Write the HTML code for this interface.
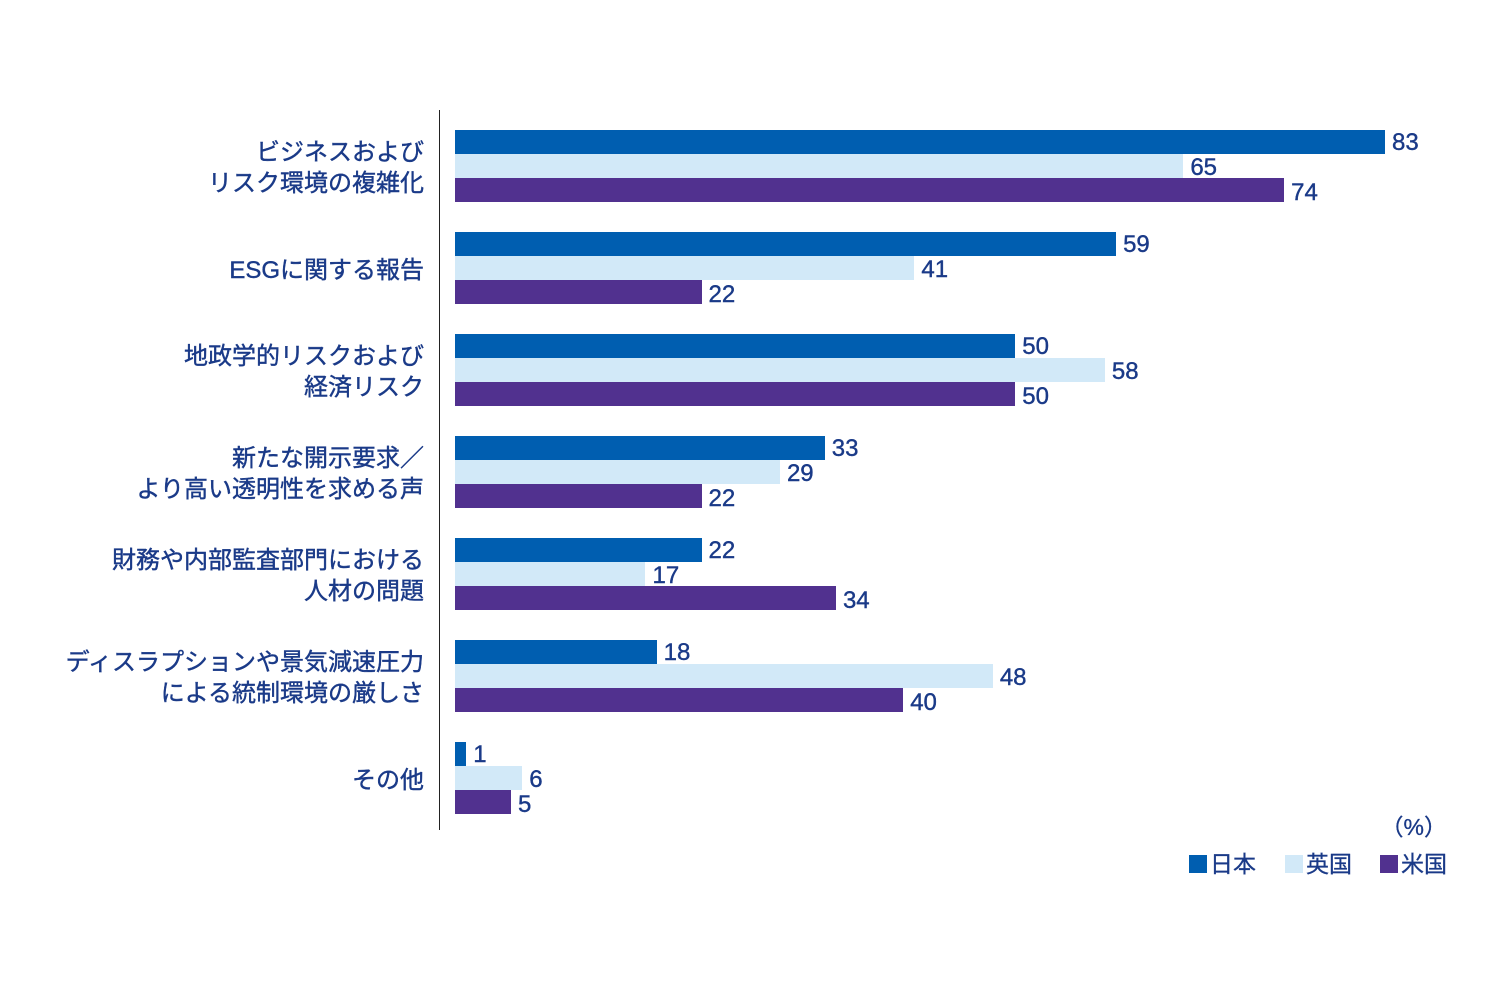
<!DOCTYPE html>
<html><head><meta charset="utf-8"><style>
body{margin:0;width:1500px;height:1000px;background:#fff;position:relative;overflow:hidden;font-family:"Liberation Sans","Noto Sans CJK JP",sans-serif;color:#1a3a88}
.ax{position:absolute;left:439px;top:110px;width:1px;height:720px;background:#222}
.b{position:absolute;left:455px;height:24px}
.j{background:#005eb0}.u{background:#d2e9f8}.a{background:#51318f}
.v{position:absolute;font-size:24px;line-height:24px;-webkit-text-stroke:0.4px #1a3a88}
.c{position:absolute;right:1076px;text-align:right;font-size:24px;line-height:31px;white-space:nowrap;-webkit-text-stroke:0.4px #1a3a88}
.lg{position:absolute;top:855px;width:18px;height:18px}
.lt{position:absolute;top:850px;font-size:23px;line-height:28px;-webkit-text-stroke:0.3px #1a3a88}
</style></head><body>
<div class="ax"></div>
<div id="g"></div>
<div style="position:absolute;right:53px;top:808px;font-size:23px;-webkit-text-stroke:0.3px #1a3a88">（%）</div>
<div class="lg j" style="left:1189px"></div><div class="lt" style="left:1210px">日本</div>
<div class="lg u" style="left:1285px"></div><div class="lt" style="left:1306px">英国</div>
<div class="lg a" style="left:1380px"></div><div class="lt" style="left:1401px">米国</div>
<script>
var d=[["ビジネスおよび<br>リスク環境の複雑化",83,65,74],["ESGに関する報告",59,41,22],["地政学的リスクおよび<br>経済リスク",50,58,50],["新たな開示要求／<br>より高い透明性を求める声",33,29,22],["財務や内部監査部門における<br>人材の問題",22,17,34],["ディスラプションや景気減速圧力<br>による統制環境の厳しさ",18,48,40],["その他",1,6,5]];
var h="",cl=["j","u","a"];
d.forEach(function(r,i){var y=130+i*102;
var two=r[0].indexOf("<br>")>0;
h+='<div class="c" style="top:'+(y+36-(two?31:15.5)+2)+'px">'+r[0]+'</div>';
for(var k=0;k<3;k++){var w=r[k+1]*930/83,t=y+k*24;
h+='<div class="v" style="left:'+(455+w+7)+'px;top:'+(t+1+k)+'px">'+r[k+1]+'</div>';
h+='<div class="b '+cl[k]+'" style="top:'+t+'px;width:'+w+'px"></div>';}
});
document.getElementById("g").innerHTML=h;
</script>
</body></html>
